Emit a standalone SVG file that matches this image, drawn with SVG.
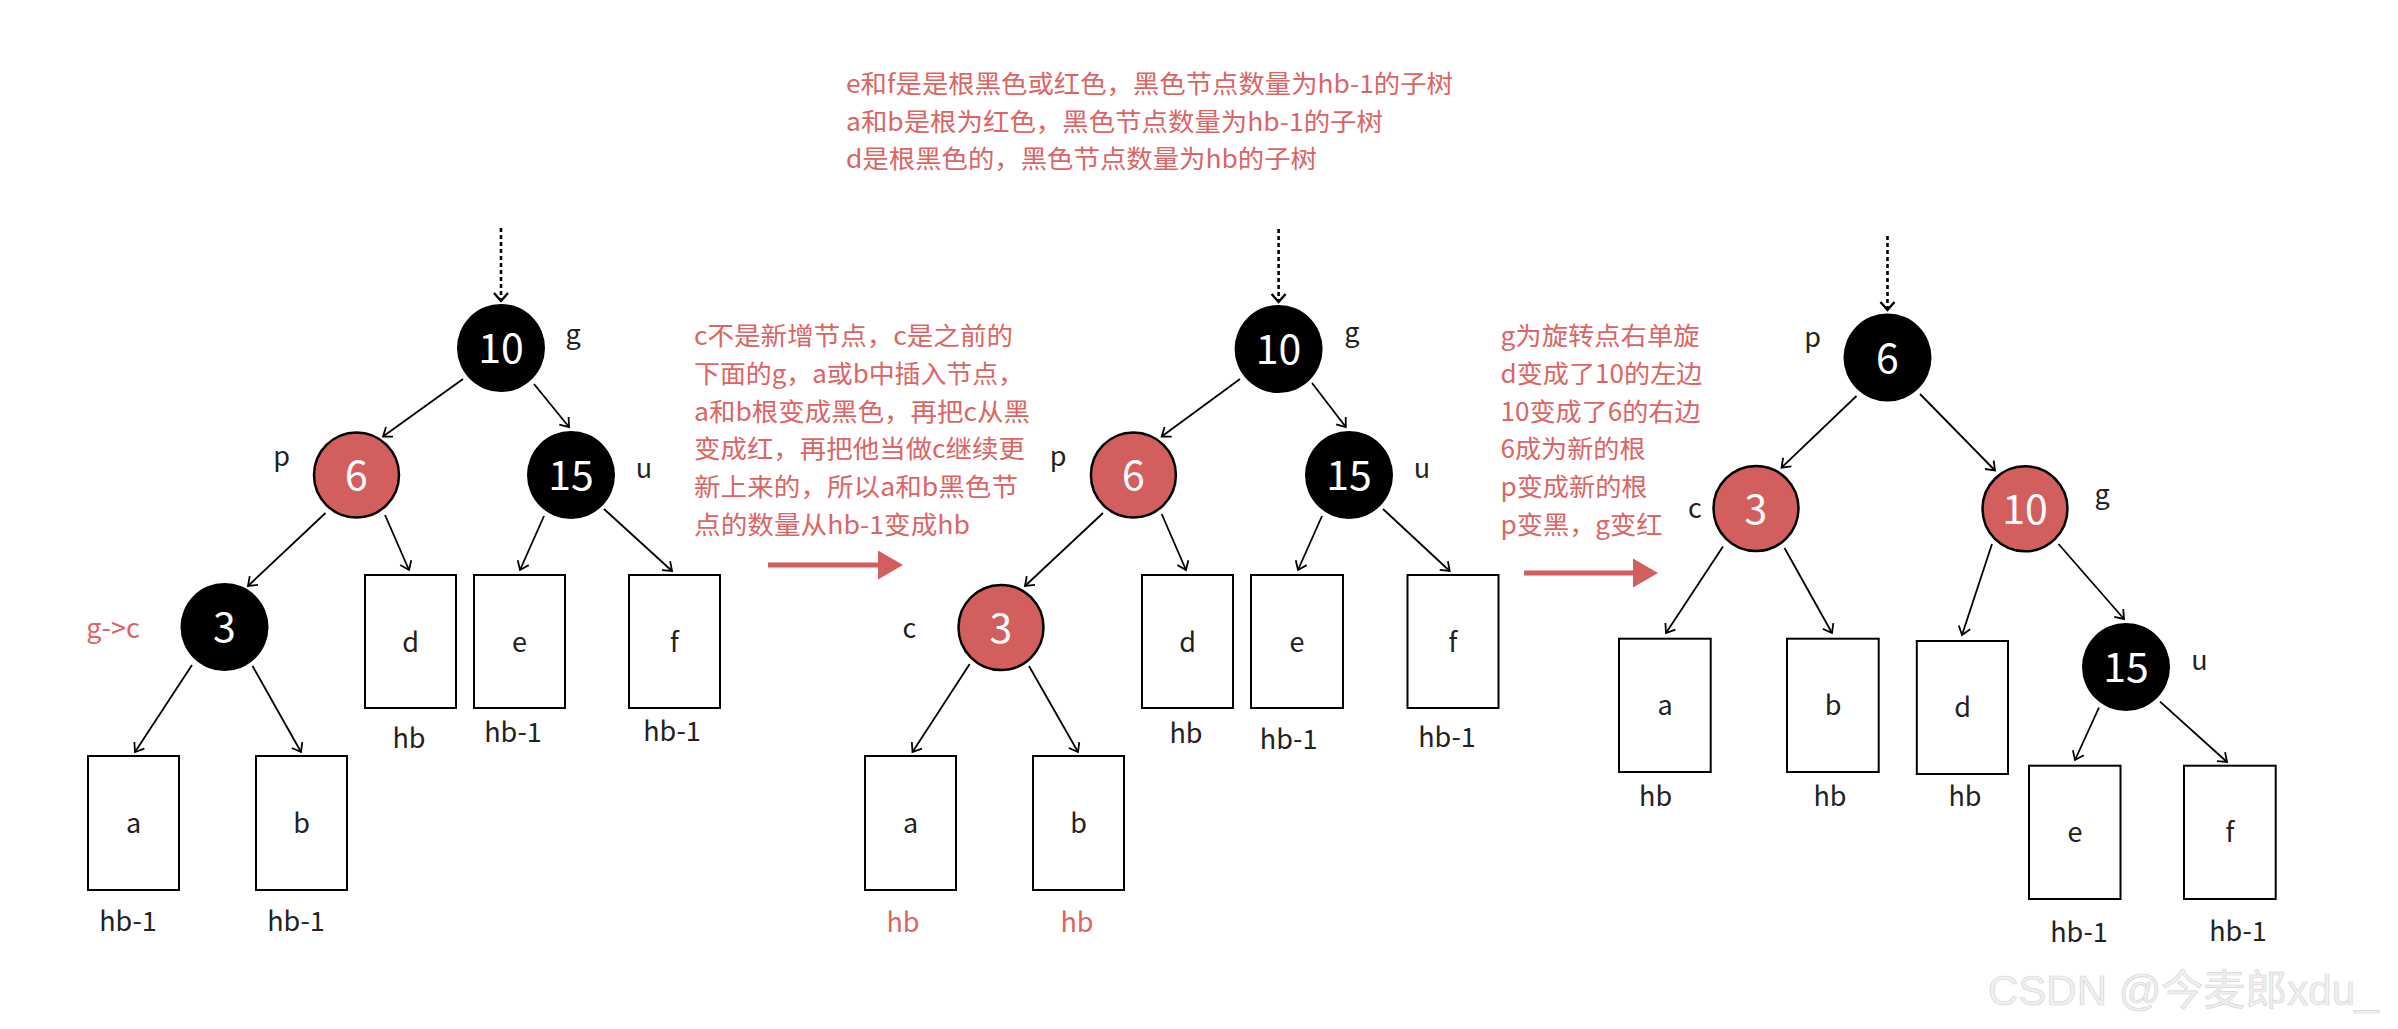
<svg xmlns="http://www.w3.org/2000/svg" width="2398" height="1029" viewBox="0 0 2398 1029">
<style>
text{font-family:"Noto Sans CJK SC","Noto Sans",sans-serif}
.bk{fill:#000}
.rd{fill:#d35e5e;stroke:#000;stroke-width:2.5}
.num{fill:#fff;font-size:41px;text-anchor:middle}
.lbl{fill:#222;font-size:27px;text-anchor:middle}
.box{fill:#fff;stroke:#000;stroke-width:2}
.note{fill:#dc6464;font-size:25px}
.rlbl{fill:#dc6464;font-size:27px;text-anchor:middle}
.edge{stroke:#000;stroke-width:1.8;fill:none;marker-end:url(#ah)}
.dot{stroke:#000;stroke-width:2.6;stroke-dasharray:4 3;fill:none;marker-end:url(#ah2)}
.rarrow{stroke:#d35e5e;stroke-width:5}
.wm{font-family:"Liberation Sans","Noto Sans CJK SC",sans-serif;font-size:42px;fill:#f0f0f0;stroke:#d6d6d6;stroke-width:0.7}
</style>
<defs>
<marker id="ah" markerUnits="userSpaceOnUse" markerWidth="14" markerHeight="16" refX="9" refY="7" orient="auto" viewBox="0 0 14 14">
<path d="M1,1 L9,7 L1,13" fill="none" stroke="#000" stroke-width="1.8"/>
</marker>
<marker id="ah2" markerUnits="userSpaceOnUse" markerWidth="14" markerHeight="18" refX="9" refY="8" orient="auto" viewBox="0 0 14 16">
<path d="M1,1 L9,8 L1,15" fill="none" stroke="#000" stroke-width="2.4"/>
</marker>
</defs>
<rect width="2398" height="1029" fill="#fff"/>

<!-- notes -->
<g id="note-top">
<text class="note" x="846" y="93" textLength="607" lengthAdjust="spacingAndGlyphs">e和f是是根黑色或红色，黑色节点数量为hb-1的子树</text>
<text class="note" x="846" y="130.5" textLength="537" lengthAdjust="spacingAndGlyphs">a和b是根为红色，黑色节点数量为hb-1的子树</text>
<text class="note" x="846" y="168" textLength="471" lengthAdjust="spacingAndGlyphs">d是根黑色的，黑色节点数量为hb的子树</text>
</g>
<g id="note-step1">
<text class="note" x="694" y="345" textLength="319" lengthAdjust="spacingAndGlyphs">c不是新增节点，c是之前的</text>
<text class="note" x="694" y="382.7" textLength="330" lengthAdjust="spacingAndGlyphs">下面的g，a或b中插入节点，</text>
<text class="note" x="694" y="420.5" textLength="336" lengthAdjust="spacingAndGlyphs">a和b根变成黑色，再把c从黑</text>
<text class="note" x="694" y="458.3" textLength="331" lengthAdjust="spacingAndGlyphs">变成红，再把他当做c继续更</text>
<text class="note" x="694" y="496" textLength="324" lengthAdjust="spacingAndGlyphs">新上来的，所以a和b黑色节</text>
<text class="note" x="694" y="533.8" textLength="276" lengthAdjust="spacingAndGlyphs">点的数量从hb-1变成hb</text>
</g>
<g id="note-step2">
<text class="note" x="1500.5" y="345" textLength="199" lengthAdjust="spacingAndGlyphs">g为旋转点右单旋</text>
<text class="note" x="1500.5" y="382.7" textLength="202" lengthAdjust="spacingAndGlyphs">d变成了10的左边</text>
<text class="note" x="1500.5" y="420.5" textLength="200" lengthAdjust="spacingAndGlyphs">10变成了6的右边</text>
<text class="note" x="1500.5" y="458.3" textLength="145" lengthAdjust="spacingAndGlyphs">6成为新的根</text>
<text class="note" x="1500.5" y="496" textLength="147" lengthAdjust="spacingAndGlyphs">p变成新的根</text>
<text class="note" x="1500.5" y="533.8" textLength="162" lengthAdjust="spacingAndGlyphs">p变黑，g变红</text>
</g>
<g id="step-arrow-1">
<line class="rarrow" x1="768" y1="565" x2="880" y2="565"/>
<polygon points="878,550.5 903,565 878,579.5" fill="#d35e5e"/>
</g>
<g id="step-arrow-2">
<line class="rarrow" x1="1524" y1="573" x2="1635" y2="573"/>
<polygon points="1633,558.5 1658,573 1633,587.5" fill="#d35e5e"/>
</g>

<!-- connectors -->
<g id="connectors">
<line class="dot" x1="501" y1="228" x2="501" y2="301"/>
<line class="edge" x1="463" y1="379" x2="383" y2="436.5"/>
<line class="edge" x1="534" y1="384" x2="569" y2="427"/>
<line class="edge" x1="325.5" y1="513" x2="248" y2="586"/>
<line class="edge" x1="385" y1="515" x2="409" y2="570"/>
<line class="edge" x1="544" y1="516" x2="520" y2="570"/>
<line class="edge" x1="604" y1="509" x2="672" y2="571"/>
<line class="edge" x1="192" y1="665" x2="135" y2="752"/>
<line class="edge" x1="252.5" y1="666" x2="301" y2="752"/>

<line class="dot" x1="1278.6" y1="229" x2="1278.6" y2="302"/>
<line class="edge" x1="1240" y1="379" x2="1161.7" y2="436.5"/>
<line class="edge" x1="1312" y1="383" x2="1345.8" y2="427"/>
<line class="edge" x1="1103" y1="513" x2="1025" y2="586"/>
<line class="edge" x1="1161.7" y1="514" x2="1186" y2="570"/>
<line class="edge" x1="1322" y1="516" x2="1298" y2="570"/>
<line class="edge" x1="1383" y1="509" x2="1449.7" y2="571"/>
<line class="edge" x1="969.7" y1="664" x2="912.5" y2="752"/>
<line class="edge" x1="1029" y1="666" x2="1078" y2="752"/>

<line class="dot" x1="1887.5" y1="236" x2="1887.5" y2="310"/>
<line class="edge" x1="1856.5" y1="396" x2="1781.5" y2="467.6"/>
<line class="edge" x1="1920" y1="394" x2="1995" y2="470.5"/>
<line class="edge" x1="1723" y1="546.6" x2="1666" y2="633"/>
<line class="edge" x1="1784.5" y1="548" x2="1832" y2="633"/>
<line class="edge" x1="1992" y1="544" x2="1962" y2="635"/>
<line class="edge" x1="2058.5" y1="544" x2="2124" y2="619"/>
<line class="edge" x1="2099" y1="707.5" x2="2075" y2="760"/>
<line class="edge" x1="2160" y1="701.7" x2="2227" y2="762"/>
</g>

<!-- diagram 1 -->
<g id="d1-n10"><circle class="bk" cx="501" cy="348" r="44"/><text class="num" x="501" y="363">10</text><text class="lbl" x="573" y="344">g</text></g>
<g id="d1-n6"><circle class="rd" cx="356.5" cy="475" r="42.5"/><text class="num" x="356.5" y="490">6</text><text class="lbl" x="281.5" y="465.5">p</text></g>
<g id="d1-n15"><circle class="bk" cx="571" cy="475" r="44"/><text class="num" x="571" y="490">15</text><text class="lbl" x="644" y="477.5">u</text></g>
<g id="d1-n3"><circle class="bk" cx="224.5" cy="627" r="44"/><text class="num" x="224.5" y="642">3</text><text class="rlbl" x="113" y="638">g-&gt;c</text></g>
<g id="d1-a"><rect class="box" x="88" y="756" width="91" height="134"/><text class="lbl" x="133.5" y="833">a</text><text class="lbl" x="128" y="931">hb-1</text></g>
<g id="d1-b"><rect class="box" x="256" y="756" width="91" height="134"/><text class="lbl" x="301.5" y="833">b</text><text class="lbl" x="296" y="931">hb-1</text></g>
<g id="d1-d"><rect class="box" x="365" y="575" width="91" height="133"/><text class="lbl" x="410.5" y="652">d</text><text class="lbl" x="409" y="748">hb</text></g>
<g id="d1-e"><rect class="box" x="474" y="575" width="91" height="133"/><text class="lbl" x="519.5" y="652">e</text><text class="lbl" x="513" y="742">hb-1</text></g>
<g id="d1-f"><rect class="box" x="629" y="575" width="91" height="133"/><text class="lbl" x="674.5" y="652">f</text><text class="lbl" x="672" y="741">hb-1</text></g>

<!-- diagram 2 -->
<g id="d2-n10"><circle class="bk" cx="1278.6" cy="349" r="44"/><text class="num" x="1278.6" y="364">10</text><text class="lbl" x="1351.8" y="341.5">g</text></g>
<g id="d2-n6"><circle class="rd" cx="1133.4" cy="475" r="42.5"/><text class="num" x="1133.4" y="490">6</text><text class="lbl" x="1058" y="465.5">p</text></g>
<g id="d2-n15"><circle class="bk" cx="1349" cy="475" r="44"/><text class="num" x="1349" y="490">15</text><text class="lbl" x="1422" y="477.5">u</text></g>
<g id="d2-n3"><circle class="rd" cx="1001" cy="627.5" r="42.5"/><text class="num" x="1001" y="642.5">3</text><text class="lbl" x="909.5" y="637.5">c</text></g>
<g id="d2-a"><rect class="box" x="865" y="756" width="91" height="134"/><text class="lbl" x="910.5" y="833">a</text><text class="rlbl" x="903" y="932">hb</text></g>
<g id="d2-b"><rect class="box" x="1033" y="756" width="91" height="134"/><text class="lbl" x="1078.5" y="833">b</text><text class="rlbl" x="1077" y="932">hb</text></g>
<g id="d2-d"><rect class="box" x="1142" y="575" width="91" height="133"/><text class="lbl" x="1187.5" y="652">d</text><text class="lbl" x="1186" y="743">hb</text></g>
<g id="d2-e"><rect class="box" x="1251" y="575" width="92" height="133"/><text class="lbl" x="1297" y="652">e</text><text class="lbl" x="1288.6" y="749">hb-1</text></g>
<g id="d2-f"><rect class="box" x="1407.5" y="575" width="91" height="133"/><text class="lbl" x="1453" y="652">f</text><text class="lbl" x="1447" y="747">hb-1</text></g>

<!-- diagram 3 -->
<g id="d3-n6"><circle class="bk" cx="1887.5" cy="357.5" r="44"/><text class="num" x="1887.5" y="372.5">6</text><text class="lbl" x="1812.6" y="346.5">p</text></g>
<g id="d3-n3"><circle class="rd" cx="1756" cy="508.5" r="42.5"/><text class="num" x="1756" y="523.5">3</text><text class="lbl" x="1695" y="518">c</text></g>
<g id="d3-n10"><circle class="rd" cx="2025" cy="508.8" r="42.5"/><text class="num" x="2025" y="523.8">10</text><text class="lbl" x="2102" y="504">g</text></g>
<g id="d3-n15"><circle class="bk" cx="2126" cy="667" r="44"/><text class="num" x="2126" y="682">15</text><text class="lbl" x="2199.5" y="669.5">u</text></g>
<g id="d3-a"><rect class="box" x="1619" y="638.7" width="91.7" height="133.3"/><text class="lbl" x="1665" y="715">a</text><text class="lbl" x="1655.6" y="806">hb</text></g>
<g id="d3-b"><rect class="box" x="1787" y="638.7" width="91.7" height="133.3"/><text class="lbl" x="1833" y="715">b</text><text class="lbl" x="1830" y="806">hb</text></g>
<g id="d3-d"><rect class="box" x="1916.8" y="641" width="91.2" height="133"/><text class="lbl" x="1962.5" y="717">d</text><text class="lbl" x="1965" y="806">hb</text></g>
<g id="d3-e"><rect class="box" x="2029" y="765.7" width="91.5" height="133.3"/><text class="lbl" x="2075" y="842">e</text><text class="lbl" x="2079" y="942">hb-1</text></g>
<g id="d3-f"><rect class="box" x="2184" y="765.7" width="91.7" height="133.3"/><text class="lbl" x="2230" y="842">f</text><text class="lbl" x="2238" y="941">hb-1</text></g>

<text class="wm" x="1988" y="1005">CSDN @今麦郎xdu_</text>
</svg>
